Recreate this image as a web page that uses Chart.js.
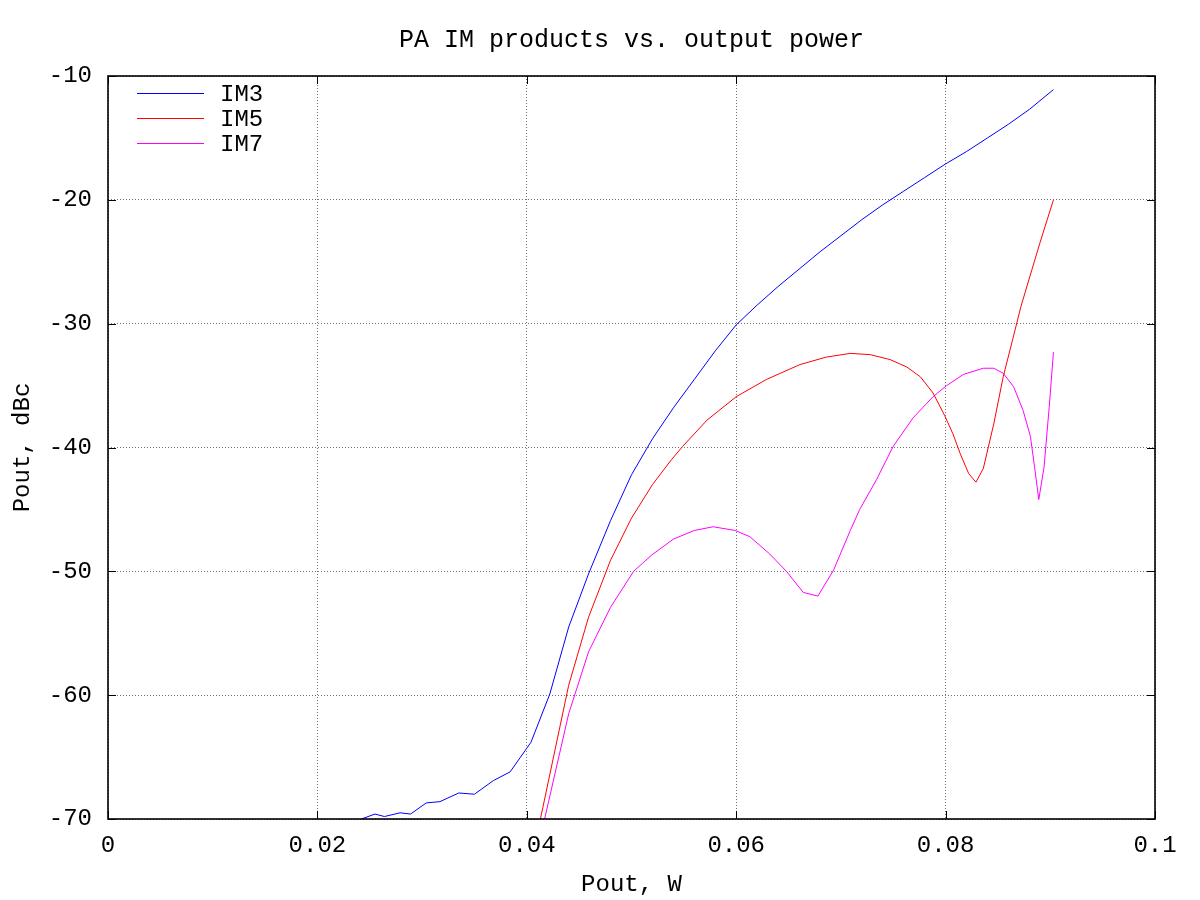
<!DOCTYPE html>
<html>
<head>
<meta charset="utf-8">
<script src="https://cdn.jsdelivr.net/npm/chart.js@4/dist/chart.umd.min.js"></script>
<style>
  html, body { margin: 0; padding: 0; background: #fff; }
  #wrap { width: 1200px; height: 900px; }
</style>
</head>
<body>
<div id="wrap"><canvas id="c" width="1200" height="900"></canvas></div>
<script>
const chartTitle = "PA IM products vs. output power";
const xTitle = "Pout, W";
const yTitle = "Pout, dBc";
const seriesNames = ["IM3", "IM5", "IM7"];

const im3X = [0.0242,0.0255,0.0264,0.0279,0.0289,0.0304,0.0317,0.0335,0.0350,0.0368,0.0384,0.0404,0.0422,0.0440,0.0459,0.0480,0.0500,0.0520,0.0540,0.0560,0.0580,0.0600,0.0620,0.0640,0.0660,0.0680,0.0700,0.0720,0.0740,0.0760,0.0780,0.0800,0.0820,0.0840,0.0860,0.0880,0.0903];
const im3Y = [-70.0,-69.6,-69.8,-69.5,-69.6,-68.7,-68.6,-67.9,-68.0,-66.9,-66.2,-63.8,-59.9,-54.5,-50.2,-45.9,-42.2,-39.3,-36.8,-34.5,-32.2,-30.1,-28.5,-27.0,-25.6,-24.2,-22.9,-21.6,-20.4,-19.3,-18.2,-17.1,-16.1,-15.0,-13.9,-12.7,-11.1];

const im5X = [0.0413,0.0440,0.0459,0.0480,0.0500,0.0520,0.0538,0.0549,0.0572,0.0600,0.0629,0.0661,0.0686,0.0709,0.0728,0.0747,0.0763,0.0776,0.0788,0.0799,0.0807,0.0814,0.0822,0.0829,0.0836,0.0846,0.0855,0.0864,0.0872,0.0890,0.0903];
const im5Y = [-70.0,-59.2,-53.7,-49.1,-45.7,-43.0,-41.0,-39.9,-37.8,-35.9,-34.5,-33.3,-32.7,-32.4,-32.5,-32.9,-33.5,-34.3,-35.6,-37.4,-38.9,-40.5,-42.1,-42.8,-41.7,-38.1,-34.3,-31.3,-28.6,-23.5,-20.0];

const im7X = [0.0417,0.0440,0.0459,0.0480,0.0502,0.0519,0.0540,0.0560,0.0578,0.0599,0.0613,0.0632,0.0648,0.0664,0.0678,0.0693,0.0709,0.0718,0.0734,0.0750,0.0769,0.0788,0.0801,0.0817,0.0836,0.0846,0.0855,0.0865,0.0874,0.0881,0.0885,0.0889,0.0894,0.0899,0.0903];
const im7Y = [-70.0,-61.5,-56.5,-52.9,-50.0,-48.7,-47.4,-46.7,-46.4,-46.7,-47.2,-48.6,-50.0,-51.7,-52.0,-49.9,-46.7,-45.0,-42.6,-39.9,-37.6,-35.9,-35.0,-34.1,-33.6,-33.6,-34.0,-35.1,-37.0,-39.1,-41.6,-44.2,-41.6,-36.7,-32.3];

const xTicks = [0, 0.02, 0.04, 0.06, 0.08, 0.1];
const yTicks = [-70, -60, -50, -40, -30, -20, -10];

const seriesColors = ["#0000ff", "#ff0000", "#ff00ff"];

function pts(xs, ys) { return xs.map((x, i) => ({ x: x, y: ys[i] })); }

const FONT = "'Liberation Mono', 'DejaVu Sans Mono', monospace";

const framePlugin = {
  id: 'frame',
  afterDatasetsDraw(chart) {
    const { ctx, chartArea: a, scales } = chart;
    ctx.save();
    ctx.strokeStyle = '#000';
    ctx.lineWidth = 1;
    const L = 8;
    ctx.beginPath();
    scales.x.ticks.forEach(t => {
      const px = Math.round(scales.x.getPixelForValue(t.value)) + 0.5;
      ctx.moveTo(px, a.bottom); ctx.lineTo(px, a.bottom - L);
      ctx.moveTo(px, a.top); ctx.lineTo(px, a.top + L);
    });
    scales.y.ticks.forEach(t => {
      const py = Math.round(scales.y.getPixelForValue(t.value)) + 0.5;
      ctx.moveTo(a.left, py); ctx.lineTo(a.left + L, py);
      ctx.moveTo(a.right, py); ctx.lineTo(a.right - L, py);
    });
    ctx.stroke();
    ctx.lineWidth = 1.6;
    ctx.strokeRect(a.left, a.top, a.right - a.left, a.bottom - a.top);
    ctx.font = "24px " + FONT;
    ctx.textBaseline = 'middle';
    ctx.textAlign = 'left';
    chart.data.datasets.forEach((ds, i) => {
      const y = a.top + 17 + i * 25;
      ctx.strokeStyle = ds.borderColor;
      ctx.lineWidth = 1;
      ctx.beginPath();
      ctx.moveTo(a.left + 29, y + 0.5);
      ctx.lineTo(a.left + 96, y + 0.5);
      ctx.stroke();
      ctx.fillStyle = '#000';
      ctx.fillText(ds.label, a.left + 112, y + 2);
    });
    ctx.restore();
  }
};

new Chart(document.getElementById('c'), {
  type: 'scatter',
  data: {
    datasets: [
      { label: seriesNames[0], data: pts(im3X, im3Y) },
      { label: seriesNames[1], data: pts(im5X, im5Y) },
      { label: seriesNames[2], data: pts(im7X, im7Y) }
    ].map((d, i) => Object.assign(d, {
      showLine: true,
      borderColor: seriesColors[i],
      backgroundColor: seriesColors[i],
      borderWidth: 1,
      pointRadius: 0,
      tension: 0
    }))
  },
  options: {
    responsive: false,
    animation: false,
    devicePixelRatio: 1,
    layout: { padding: { left: 0, right: 45, top: 0, bottom: 0 } },
    plugins: {
      legend: { display: false },
      tooltip: { enabled: false },
      title: {
        display: true,
        fullSize: false,
        text: chartTitle,
        color: '#000',
        font: { family: FONT, size: 25, weight: 'normal' },
        padding: { top: 25, bottom: 21 }
      }
    },
    scales: {
      x: {
        type: 'linear',
        min: 0, max: 0.1,
        afterBuildTicks(scale) { scale.ticks = xTicks.map(v => ({ value: v })); },
        afterFit(scale) { scale.height = 81; },
        ticks: {
          color: '#000',
          padding: 12,
          maxRotation: 0,
          font: { family: FONT, size: 24 },
          callback: v => String(v)
        },
        grid: { color: 'rgba(0,0,0,0.55)', lineWidth: 1, drawTicks: false, borderDash: [1, 2] },
        border: { display: false, dash: [1, 2] },
        title: {
          display: true, text: xTitle, color: '#000',
          font: { family: FONT, size: 24 },
          padding: { top: 0, bottom: 1 }
        }
      },
      y: {
        type: 'linear',
        min: -70, max: -10,
        afterBuildTicks(scale) { scale.ticks = yTicks.map(v => ({ value: v })); },
        afterFit(scale) { scale.width = 108; },
        ticks: {
          color: '#000',
          padding: 16,
          font: { family: FONT, size: 24 },
          callback: v => String(v)
        },
        grid: { color: 'rgba(0,0,0,0.55)', lineWidth: 1, drawTicks: false, borderDash: [1, 2] },
        border: { display: false, dash: [1, 2] },
        title: {
          display: true, text: yTitle, color: '#000',
          font: { family: FONT, size: 24 },
          padding: { top: 8, bottom: 0 }
        }
      }
    }
  },
  plugins: [framePlugin]
});
</script>
</body>
</html>
